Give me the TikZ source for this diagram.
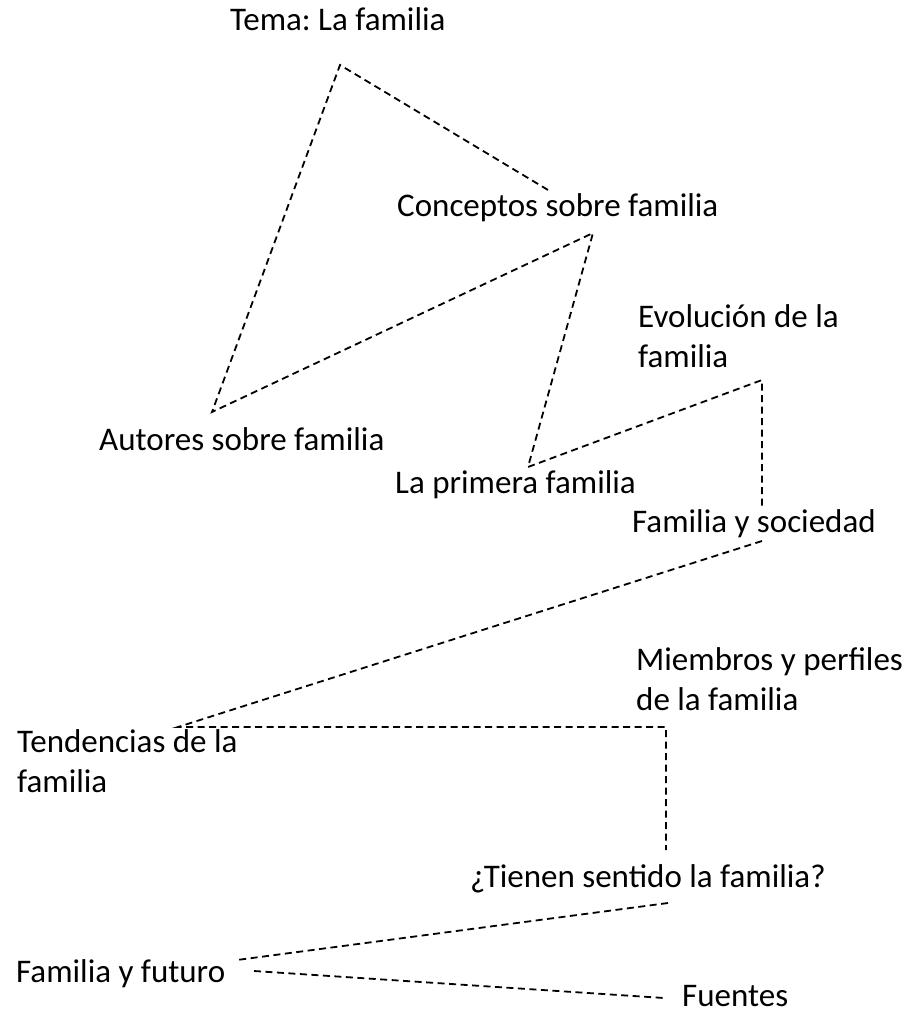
\documentclass[tikz,border=0pt]{standalone}
\usepackage{fontspec}
\setmainfont{Carlito}
\frenchspacing
\begin{document}
\begin{tikzpicture}[x=1pt,y=-1pt,
  lbl/.style={anchor=base west,inner sep=0pt,font=\fontsize{33}{40}\selectfont\frenchspacing,align=left},
  conn/.style={draw=black,line width=1.8pt,dash pattern=on 7pt off 4.5pt}]
\useasboundingbox (0,0) rectangle (907,1014);
% labels (multi-line labels are placed by the baseline of their last line)
\node[lbl] (tema) at (230,31) {Tema: La familia};
\node[lbl] (conc) at (397,216) {Conceptos sobre familia};
\node[lbl] (aut) at (99,450) {Autores sobre familia};
\node[lbl] (prim) at (395,493) {La primera familia};
\node[lbl] (evo) at (638,367) {Evolución de la\\familia};
\node[lbl] (soc) at (632,532) {Familia y sociedad};
\node[lbl] (miem) at (636,710) {Miembros y perfiles\\de la familia};
\node[lbl] (tend) at (17,792) {Tendencias de la\\familia};
\node[lbl] (tien) at (470,887) {¿Tienen sentido la familia?};
\node[lbl] (fut) at (16,982) {Familia y futuro};
\node[lbl] (fue) at (682,1006) {Fuentes};
% connector end points
\coordinate (temaP) at (340,65);
\coordinate (concA) at (548,190);
\coordinate (concB) at (593,233);
\coordinate (autP) at (212,412);
\coordinate (primP) at (528,467);
\coordinate (evoP) at (762,380);
\coordinate (socA) at (762,510);
\coordinate (socB) at (762,541);
\coordinate (tendP) at (178,727);
\coordinate (miemP) at (666,727);
\coordinate (tienA) at (666,850);
\coordinate (tienB) at (668,903);
\coordinate (futA) at (237,960);
\coordinate (futB) at (254,971);
\coordinate (fueP) at (664,998);
% connectors
\draw[conn] (concA) -- (temaP) -- (autP) -- (concB) -- (primP) -- (evoP) -- (socA);
\draw[conn] (socB) -- (tendP) -- (miemP) -- (tienA);
\draw[conn] (tienB) -- (futA);
\draw[conn] (futB) -- (fueP);
\end{tikzpicture}
\end{document}
